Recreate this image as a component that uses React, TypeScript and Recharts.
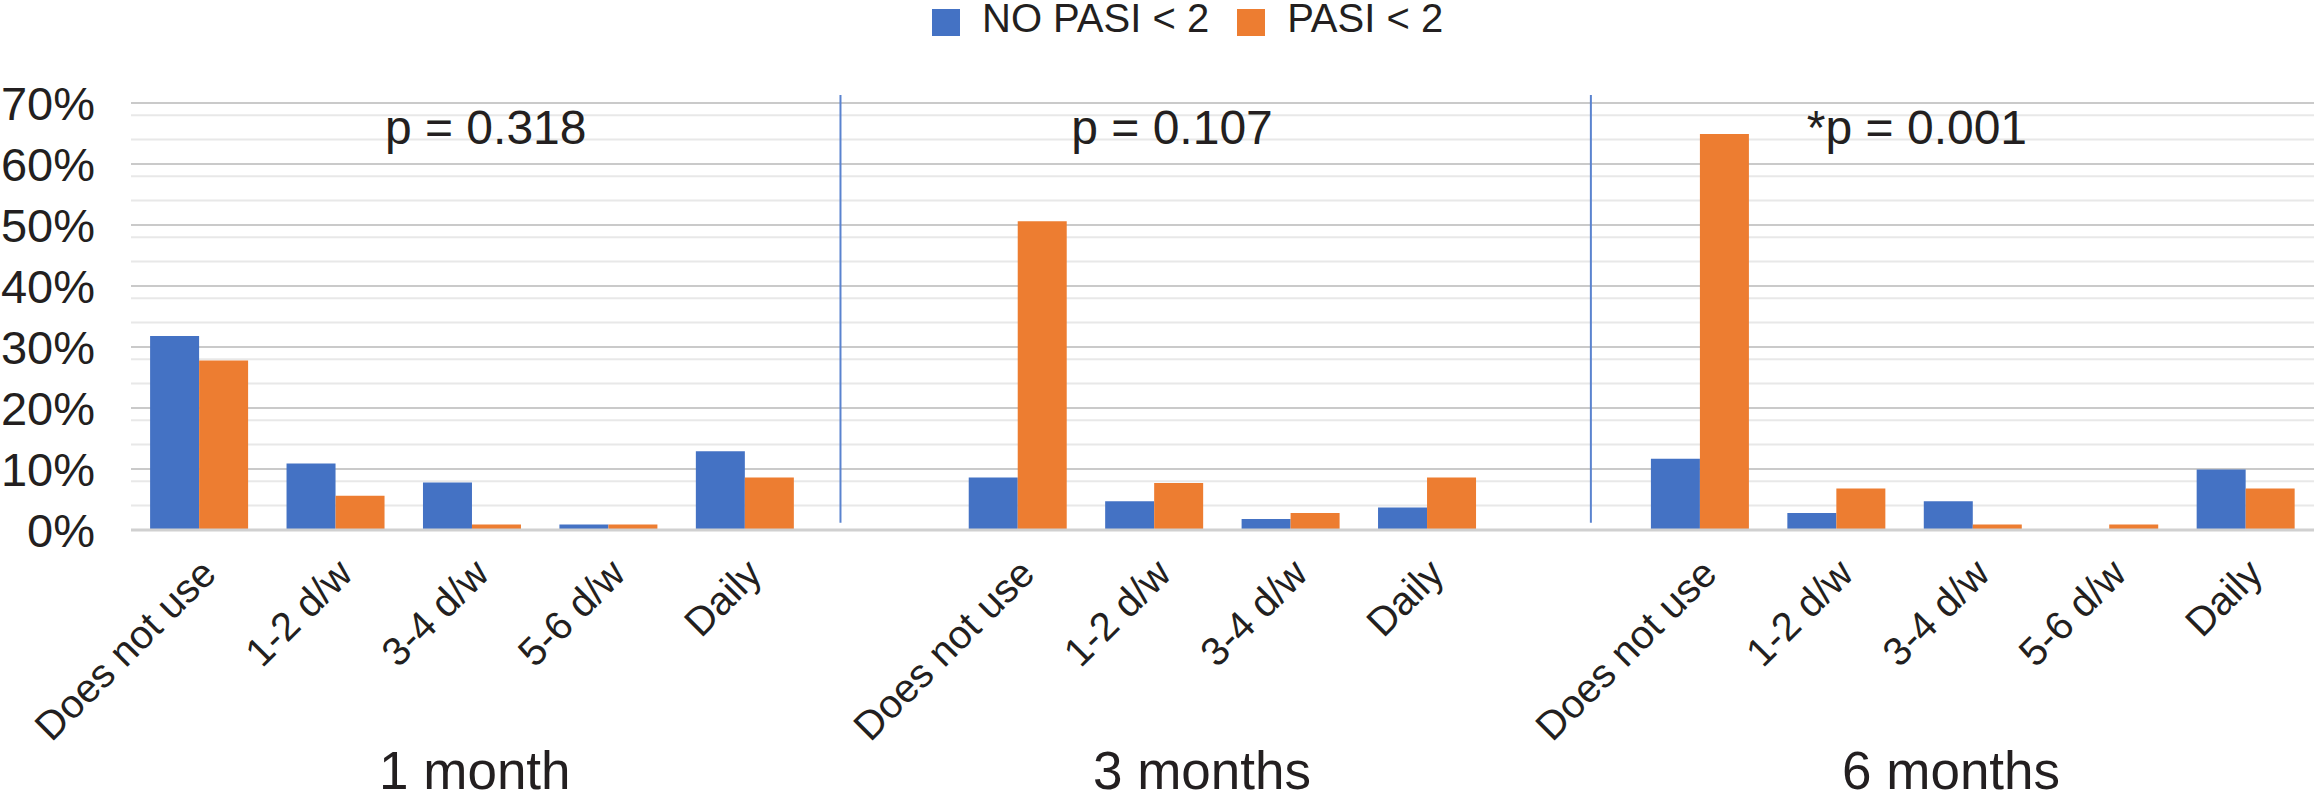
import {
  BarChart,
  Bar,
  XAxis,
  YAxis,
  CartesianGrid,
  Legend,
  ReferenceLine,
  ReferenceDot,
  Label,
} from "recharts";

// categories along the x axis ("" = empty slot between groups)
const categories = [
  "Does not use", "1-2 d/w", "3-4 d/w", "5-6 d/w", "Daily",
  "",
  "Does not use", "1-2 d/w", "3-4 d/w", "Daily",
  "",
  "Does not use", "1-2 d/w", "3-4 d/w", "5-6 d/w", "Daily",
];

// percentages
const noPasi = [31.8, 10.9, 7.8, 0.9, 12.9, null, 8.6, 4.7, 1.8, 3.7, null, 11.7, 2.8, 4.7, 0, 9.9];
const pasi = [27.8, 5.6, 0.9, 0.9, 8.6, null, 50.6, 7.7, 2.8, 8.6, null, 64.9, 6.8, 0.9, 0.9, 6.8];

const yTicks = [0, 10, 20, 30, 40, 50, 60, 70];
const minorTicks = [2, 4, 6, 8, 12, 14, 16, 18, 22, 24, 26, 28, 32, 34, 36, 38, 42, 44, 46, 48, 52, 54, 56, 58, 62, 64, 66, 68];

// annotations, x in category slots (0..16)
const separators = [5.2, 10.7];
const pValues = ["p = 0.318", "p = 0.107", "*p = 0.001"];
const pValueX = [2.6, 7.63, 13.09];
const groupNames = ["1 month", "3 months", "6 months"];
const groupX = [2.52, 7.85, 13.34];

// slot = centre of each category band, used by the hidden positioning axis
const data = categories.map((cat, i) => ({
  cat,
  slot: i + 0.5,
  noPasi: noPasi[i],
  pasi: pasi[i],
}));

const FONT = '"Liberation Sans", Arial, Helvetica, sans-serif';
const INK = "#231f20";

const CategoryTick = (props: any) => {
  const { x, y, payload } = props;
  if (!payload.value) return null;
  return (
    <g transform={`translate(${x + 19},${y + 46})`}>
      <text textAnchor="end" transform="rotate(-45)" fontSize={40} fill={INK}>
        {payload.value}
      </text>
    </g>
  );
};

const renderLegend = (props: any) => {
  const { payload } = props;
  return (
    <div style={{ display: "flex", height: 40, alignItems: "center" }}>
      {payload.map((entry: any) => (
        <div key={entry.value} style={{ display: "flex", alignItems: "center", marginRight: 28 }}>
          <span
            style={{
              display: "inline-block",
              width: 28,
              height: 27,
              background: entry.color,
              marginRight: 22,
              marginTop: 9,
            }}
          />
          <span style={{ fontSize: 40, lineHeight: "40px", color: INK }}>{entry.value}</span>
        </div>
      ))}
    </div>
  );
};

export default function App() {
  return (
    <div style={{ fontFamily: FONT, background: "#fff", width: 2316, height: 798 }}>
      <style>{`body{margin:0;background:#fff}`}</style>
      <BarChart
        width={2316}
        height={798}
        data={data}
        margin={{ top: 63, right: 2, bottom: 0, left: 0 }}
        barCategoryGap="14%"
        barGap={0}
      >
        <CartesianGrid
          horizontal
          vertical={false}
          horizontalValues={minorTicks}
          stroke="#e8e8e8"
          strokeWidth={2}
        />
        <CartesianGrid
          horizontal
          vertical={false}
          horizontalValues={yTicks}
          stroke="#cacaca"
          strokeWidth={2}
        />
        <XAxis
          dataKey="cat"
          interval={0}
          tickLine={false}
          tickSize={0}
          tickMargin={0}
          height={268}
          axisLine={{ stroke: "#d0d0d0", strokeWidth: 3 }}
          tick={<CategoryTick />}
        />
        <XAxis
          xAxisId="pos"
          type="number"
          dataKey="slot"
          domain={[0, 16]}
          ticks={[0, 4, 8, 12, 16]}
          allowDataOverflow
          hide
        />
        <YAxis
          type="number"
          domain={[0, 70]}
          ticks={yTicks}
          width={131}
          axisLine={false}
          tickLine={false}
          tickSize={0}
          tickMargin={36}
          tickFormatter={(v) => `${v}%`}
          tick={{ fontSize: 47, fill: INK }}
        />
        <Legend
          verticalAlign="top"
          content={renderLegend}
          wrapperStyle={{ top: -2, left: 932, width: "auto" }}
        />
        <Bar dataKey="noPasi" name="NO PASI < 2" fill="#4472c4" isAnimationActive={false} />
        <Bar dataKey="pasi" name="PASI < 2" fill="#ed7d31" isAnimationActive={false} />
        {separators.map((sx) => (
          <ReferenceLine
            key={sx}
            xAxisId="pos"
            ifOverflow="visible"
            segment={[
              { x: sx, y: 1.2 },
              { x: sx, y: 71.3 },
            ]}
            stroke="#5a83cf"
            strokeWidth={2}
          />
        ))}
        {pValues.map((p, i) => (
          <ReferenceDot key={p} xAxisId="pos" x={pValueX[i]} y={66.1} r={0} ifOverflow="visible">
            <Label value={p} position="center" fontSize={48} fill={INK} />
          </ReferenceDot>
        ))}
        {groupNames.map((g, i) => (
          <ReferenceDot key={g} xAxisId="pos" x={groupX[i]} y={-39.3} r={0} ifOverflow="visible">
            <Label value={g} position="center" fontSize={53} fill={INK} />
          </ReferenceDot>
        ))}
      </BarChart>
    </div>
  );
}
